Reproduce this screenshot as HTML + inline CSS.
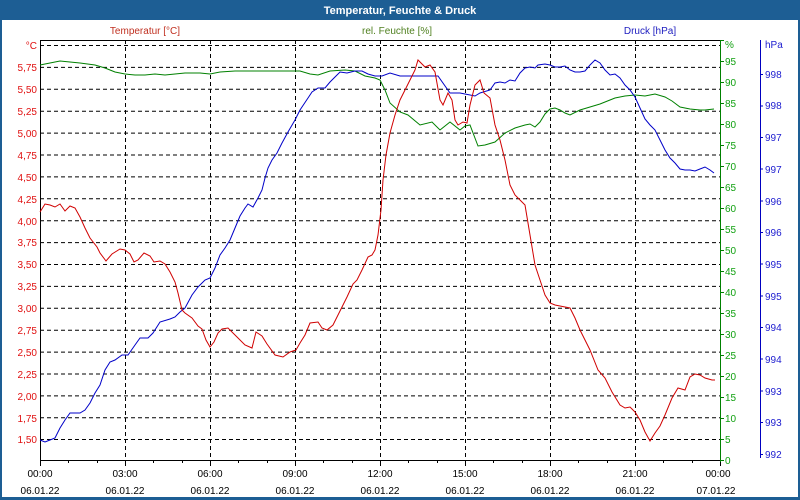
<!DOCTYPE html>
<html><head><meta charset="utf-8"><style>
html,body{margin:0;padding:0;background:#fff}
svg{display:block;font-family:"Liberation Sans",sans-serif}
</style></head><body>
<svg width="800" height="500" viewBox="0 0 800 500" xmlns="http://www.w3.org/2000/svg">
<rect x="0" y="0" width="800" height="500" fill="#1d5e94"/>
<rect x="2" y="20" width="796" height="477" fill="#fff"/>
<text x="400" y="14" fill="#fff" font-size="11" font-weight="bold" text-anchor="middle">Temperatur, Feuchte &amp; Druck</text>
<text x="145" y="34" fill="#c03020" font-size="10" text-anchor="middle">Temperatur [°C]</text>
<text x="397" y="34" fill="#508020" font-size="10" text-anchor="middle">rel. Feuchte [%]</text>
<text x="650" y="34" fill="#2020c0" font-size="10" text-anchor="middle">Druck [hPa]</text>
<g stroke="#000" stroke-width="1" stroke-dasharray="4,3" fill="none">
<path d="M40 45.5H720M40 67.4H720M40 89.3H720M40 111.2H720M40 133.1H720M40 155H720M40 176.9H720M40 198.8H720M40 220.7H720M40 242.6H720M40 264.5H720M40 286.4H720M40 308.3H720M40 330.2H720M40 352.1H720M40 374H720M40 395.9H720M40 417.8H720M40 439.5H720"/>
<path d="M125.5 40V460M210.5 40V460M295.5 40V460M380.5 40V460M465.5 40V460M550.5 40V460M635.5 40V460"/>
</g>
<path d="M40 40.5H720M40.5 40V460M40 460.5H720" stroke="#000" fill="none"/>
<path d="M40.5 460V466M68.5 460V463M97.5 460V463M125.5 460V466M153.5 460V463M182.5 460V463M210.5 460V466M238.5 460V463M267.5 460V463M295.5 460V466M323.5 460V463M352.5 460V463M380.5 460V466M408.5 460V463M437.5 460V463M465.5 460V466M493.5 460V463M522.5 460V463M550.5 460V466M578.5 460V463M607.5 460V463M635.5 460V466M663.5 460V463M692.5 460V463M720.5 460V466" stroke="#000"/>
<path d="M720.5 40V462" stroke="#008000"/>
<path d="M720 40.5h4M720 61.5h4M720 82.5h4M720 103.5h4M720 124.5h4M720 145.5h4M720 166.5h4M720 187.5h4M720 208.5h4M720 229.5h4M720 250.5h4M720 271.5h4M720 292.5h4M720 313.5h4M720 334.5h4M720 355.5h4M720 376.5h4M720 397.5h4M720 418.5h4M720 439.5h4M720 460.5h4" stroke="#008000"/>
<path d="M760.5 40V458" stroke="#0000c0"/>
<path d="M760 74.5h3M760 106h3M760 137.5h3M760 169h3M760 201h3M760 232.5h3M760 264h3M760 296h3M760 327.5h3M760 359h3M760 391h3M760 422.5h3M760 454.5h3" stroke="#0000c0"/>
<g font-size="10" fill="#e01010" text-anchor="end">
<text x="37" y="49">°C</text><text x="37" y="71">5,75</text><text x="37" y="93">5,50</text><text x="37" y="115">5,25</text><text x="37" y="137">5,00</text><text x="37" y="159">4,75</text><text x="37" y="181">4,50</text><text x="37" y="203">4,25</text><text x="37" y="225">4,00</text><text x="37" y="246">3,75</text><text x="37" y="268">3,50</text><text x="37" y="290">3,25</text><text x="37" y="312">3,00</text><text x="37" y="334">2,75</text><text x="37" y="356">2,50</text><text x="37" y="378">2,25</text><text x="37" y="400">2,00</text><text x="37" y="422">1,75</text><text x="37" y="443">1,50</text>
</g>
<g font-size="10" fill="#10a010">
<text x="725" y="48">%</text><text x="725" y="65">95</text><text x="725" y="86">90</text><text x="725" y="107">85</text><text x="725" y="128">80</text><text x="725" y="149">75</text><text x="725" y="170">70</text><text x="725" y="191">65</text><text x="725" y="212">60</text><text x="725" y="233">55</text><text x="725" y="254">50</text><text x="725" y="275">45</text><text x="725" y="296">40</text><text x="725" y="317">35</text><text x="725" y="338">30</text><text x="725" y="359">25</text><text x="725" y="380">20</text><text x="725" y="401">15</text><text x="725" y="422">10</text><text x="725" y="443">5</text><text x="725" y="464">0</text>
</g>
<g font-size="10" fill="#2020d0">
<text x="765" y="48">hPa</text><text x="765" y="78">998</text><text x="765" y="109">998</text><text x="765" y="141">997</text><text x="765" y="173">997</text><text x="765" y="205">996</text><text x="765" y="236">996</text><text x="765" y="268">995</text><text x="765" y="300">995</text><text x="765" y="331">994</text><text x="765" y="363">994</text><text x="765" y="395">993</text><text x="765" y="426">993</text><text x="765" y="458">992</text>
</g>
<g font-size="10" fill="#000" text-anchor="middle">
<text x="40" y="477">00:00</text><text x="125" y="477">03:00</text><text x="210" y="477">06:00</text><text x="295" y="477">09:00</text><text x="380" y="477">12:00</text><text x="465" y="477">15:00</text><text x="550" y="477">18:00</text><text x="635" y="477">21:00</text><text x="718" y="477">00:00</text>
<text x="40" y="494">06.01.22</text><text x="125" y="494">06.01.22</text><text x="210" y="494">06.01.22</text><text x="295" y="494">06.01.22</text><text x="380" y="494">06.01.22</text><text x="465" y="494">06.01.22</text><text x="550" y="494">06.01.22</text><text x="635" y="494">06.01.22</text><text x="716" y="494">07.01.22</text>
</g>
<polyline fill="none" stroke="#008000" stroke-width="1" points="40,65 50,63 60,61 70,62 80,63 95,65 105,68 115,72 125,74 135,75 145,75 155,74 165,75 175,74 185,73 200,73 210,74 220,72 235,71 260,71 275,71 300,71 310,74 318,75 330,71 345,70 355,71 365,76 375,78 380,80 385,90 390,103 400,112 408,115 420,125 432,122 440,130 450,122 460,130 465,126 470,125 478,146 485,145 495,142 505,133 515,128 525,125 530,124 535,127 540,122 545,114 550,109 555,108 560,110 565,113 570,115 580,110 590,107 600,104 610,100 615,98 625,96 635,95 645,96 650,95 655,94 665,97 672,101 680,107 690,109 700,110 705,110 714,109"/>
<polyline fill="none" stroke="#0000c8" stroke-width="1" points="40,440 45,442 50,440 55,438 60,428 65,420 70,413 80,413 85,410 90,403 95,393 100,385 105,370 110,362 115,360 122,355 128,355 135,345 140,338 148,338 153,333 160,322 170,319 175,317 180,312 185,308 192,295 198,287 205,280 210,278 215,268 220,255 225,248 230,240 235,228 240,216 245,208 248,204 253,207 258,198 262,190 265,178 268,168 272,160 277,153 282,143 288,132 295,120 300,110 308,98 312,92 318,88 325,88 330,82 335,77 340,72 347,73 355,71 362,71 368,74 375,76 382,76 390,73 400,76 415,76 438,76 450,93 460,93 475,96 480,93 490,90 495,83 500,82 505,83 510,80 515,81 520,73 525,68 530,67 535,68 538,65 545,64 550,65 555,67 560,67 565,66 570,70 575,72 580,72 585,71 590,65 595,60 600,63 605,70 610,75 615,74 620,78 625,85 630,90 635,97 640,108 645,119 650,125 655,130 660,140 665,150 670,158 675,163 680,169 685,170 690,170 695,171 700,169 705,167 710,170 714,173"/>
<polyline fill="none" stroke="#d00000" stroke-width="1" points="40,212 45,204 50,205 55,207 60,204 65,211 70,206 75,208 80,217 85,228 90,238 97,247 100,253 106,261 112,254 120,249 125,250 130,254 134,262 138,260 144,253 150,256 154,262 160,261 165,264 170,272 175,282 178,293 182,310 185,313 192,318 198,326 202,329 206,340 210,347 214,342 218,333 222,329 228,328 235,335 245,345 252,348 256,332 262,336 267,344 275,355 283,357 290,352 296,350 300,343 305,335 310,323 318,322 322,328 327,330 333,325 338,315 343,305 347,297 353,284 357,280 362,270 368,257 372,255 375,250 378,235 381,210 383,180 386,155 390,133 395,115 400,100 405,90 410,80 415,70 418,60 425,67 430,65 435,72 440,100 443,105 448,93 452,100 455,120 458,125 463,122 467,123 470,105 475,85 480,80 484,93 490,98 495,125 500,140 505,160 510,185 515,195 520,200 525,205 530,235 535,265 540,280 545,295 550,303 555,305 560,306 570,308 575,318 580,330 590,350 598,370 605,378 612,392 620,405 625,408 630,407 635,412 640,420 645,432 650,441 655,433 660,426 665,415 672,398 678,388 685,390 690,377 695,374 700,375 705,378 712,380 715,380"/>
</svg>
</body></html>
